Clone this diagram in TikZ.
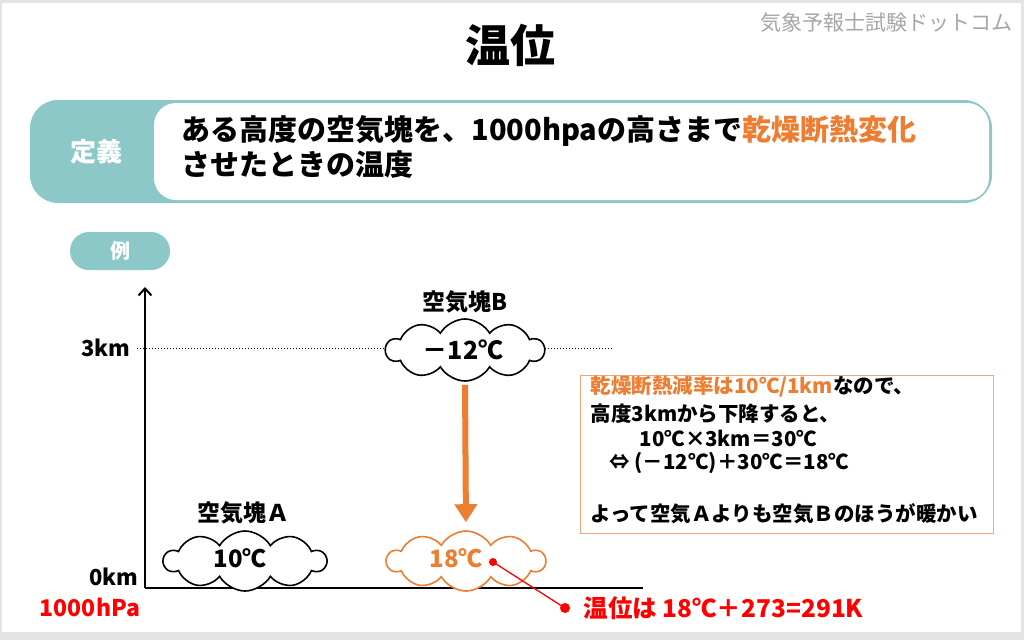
\documentclass[tikz,border=0pt]{standalone}
\usepackage{fontspec}
\setmainfont{Noto Sans CJK JP}
\usetikzlibrary{shapes.symbols,arrows.meta}
\definecolor{tealc}{HTML}{8DC8C8}
\definecolor{orangec}{HTML}{ED7D31}
\definecolor{orangel}{HTML}{F4A878}
\definecolor{wmgray}{HTML}{A6A6A6}
\definecolor{framegray}{HTML}{E4E4E4}
\tikzset{
  fs/.style={font=\bfseries\fontsize{#1}{#1}\selectfont},
  puff/.style={cloud, cloud puffs=10, cloud puff arc=120, aspect=2.6, draw, fill=white, line width=1.6, inner sep=0},
  expl/.style={anchor=west, fs=20.5},
}
\begin{document}
\begin{tikzpicture}[x=1pt,y=-1pt]
\useasboundingbox (0,0) rectangle (1024,640);
\fill[framegray] (0,0) rectangle (1024,640);
\fill[white] (2,3) rectangle (1021,632);
% title and watermark
\node[fs=45] (title) at (510,45) {温位};
\node[anchor=east, text=wmgray, font=\fontsize{21}{21}\selectfont] (wm) at (1016,23) {気象予報士試験ドットコム};
% definition box
\node[fill=tealc, rounded corners=28, minimum width=962, minimum height=103, inner sep=0] (defbox) at (511,151.5) {};
\node[fill=white, rounded corners=22, minimum width=835, minimum height=97, inner sep=0] (definner) at (571.5,151.5) {};
\node[fs=26, text=white] (defl) at (96,152) {定義};
\node[anchor=west, fs=29] (def1) at (178,131) {ある高度の空気塊を、1000hpaの高さまで\textcolor{orangec}{乾燥断熱変化}};
\node[anchor=west, fs=29] (def2) at (178,165) {させたときの温度};
% example pill
\node[fill=tealc, rounded corners=19, minimum width=100, minimum height=38, inner sep=0, text=white, fs=20] (rei) at (120,251) {例};
% axes
\coordinate (origin) at (145,588);
\coordinate (ytop) at (145,287);
\coordinate (xend) at (643,588);
\coordinate (dotl) at (137,348);
\coordinate (dotr) at (612,348);
\draw[dotted, line width=1] (dotl) -- (dotr);
\draw[line width=2, -{Straight Barb[length=7,width=13,line width=2]}] (origin) -- (ytop);
\draw[line width=2.6] (origin) -- (xend);
\node[anchor=east, fs=22] (km3) at (134,348) {3km};
\node[anchor=east, fs=22] (km0) at (142,577) {0km};
\node[fs=23, text=red] (hpa) at (90,607) {1000hPa};
% cloud B
\node[puff, minimum width=158, minimum height=62] (cloudB) at (465,350) {};
\node[fs=25] (tB) at (463,350) {－12℃};
\node[fs=23] (labB) at (465,302) {空気塊B};
% cloud C (orange)
\node[puff, draw=orangec, minimum width=158, minimum height=60] (cloudC) at (466,561) {};
\node[fs=24, text=orangec] (tC) at (456,558) {18℃};
% cloud A
\node[puff, minimum width=162, minimum height=60] (cloudA) at (245,561) {};
\node[fs=24] (tA) at (240,558) {10℃};
\node[fs=23] (labA) at (243,513) {空気塊Ａ};
% orange arrow
\draw[orangec, line width=6, -{Triangle[length=18,width=22]}, shorten <=3, shorten >=8] (cloudB.south) -- (cloudC.north);
% red pointer
\node[circle, fill=red, inner sep=0, minimum size=8] (d1) at (493,562) {};
\node[circle, fill=red, inner sep=0, minimum size=10] (d2) at (565,608) {};
\draw[red, line width=1.3] (d1.center) -- (d2.center);
\node[anchor=west, fs=24.5, text=red] (ans) at (580,608) {温位は 18℃＋273=291K};
% explanation box
\node[draw=orangel, line width=1.2, minimum width=413, minimum height=158, anchor=north west, inner sep=0] (explbox) at (580,375) {};
\node[expl] (e1) at (587,387) {\textcolor{orangec}{乾燥断熱減率は10℃/1km}なので、};
\node[expl] (e2) at (587,414) {高度3kmから下降すると、};
\node[expl] (e3) at (636,438) {10℃×3km＝30℃};
\node[expl] (e4) at (606,463) {⇔ (－12℃)＋30℃＝18℃};
\node[expl] (e5) at (587,514) {よって空気Ａよりも空気Ｂのほうが暖かい};
\end{tikzpicture}
\end{document}
